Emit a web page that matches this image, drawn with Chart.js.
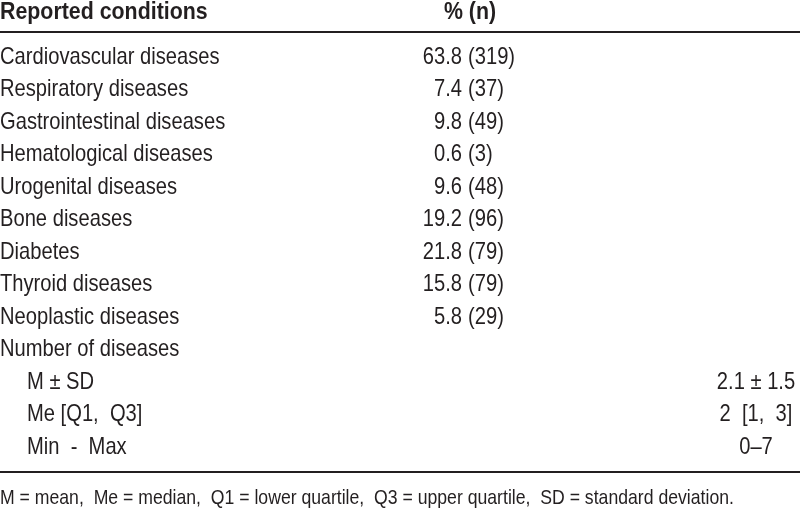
<!DOCTYPE html>
<html lang="en">
<head>
<meta charset="UTF-8">
<title>Reported conditions</title>
<script src="https://cdn.jsdelivr.net/npm/chart.js"></script>
<style>
  html, body { margin: 0; padding: 0; background: #fff; }
  #wrap { width: 800px; height: 511px; position: relative; }
</style>
</head>
<body>
<div id="wrap"><canvas id="tabela"></canvas></div>
<script>
// dados da tabela
const headers = ['Reported conditions', '% (n)'];
const conditions = ['Cardiovascular diseases', 'Respiratory diseases', 'Gastrointestinal diseases',
  'Hematological diseases', 'Urogenital diseases', 'Bone diseases', 'Diabetes',
  'Thyroid diseases', 'Neoplastic diseases'];
const percents = [63.8, 7.4, 9.8, 0.6, 9.6, 19.2, 21.8, 15.8, 5.8];
const counts = [319, 37, 49, 3, 48, 96, 79, 79, 29];
const summaryTitle = 'Number of diseases';
const summaryLabels = ['M ± SD', 'Me [Q1,  Q3]', 'Min  -  Max'];
const summaryValues = ['2.1 ± 1.5', '2  [1,  3]', '0–7'];
const footnote = 'M = mean,  Me = median,  Q1 = lower quartile,  Q3 = upper quartile,  SD = standard deviation.';

// layout (colunas em px, linhas em indice de linha)
const FONT = '"Liberation Sans", Arial, sans-serif';
const NARROW = 0.84;   // fonte condensada simulada
const NARROW_BOLD = 0.89;
const TXT = '#231f20';
const PCT_COL = 462;   // ponto decimal
const SUM_COL = 756;   // centro da coluna de resumo
const ROW_H = 32.5;
const FIRST_ROW = 57;

const nRows = conditions.length;
const summaryRow = nRows;              // "Number of diseases"
const headerRow = (12 - FIRST_ROW) / ROW_H;
const ruleTop = (32 - FIRST_ROW) / ROW_H;
const ruleBottom = (472 - FIRST_ROW) / ROW_H;
const footRow = (498 - FIRST_ROW) / ROW_H;

const pctPoints = percents.map((p, i) => ({ x: PCT_COL, y: i }));
const sumPoints = summaryValues.map((v, i) => ({ x: SUM_COL, y: summaryRow + 1 + i }));

function texto(ctx, t, x, y, align, esc) {
  ctx.save();
  ctx.translate(x, y);
  ctx.scale(esc || NARROW, 1);
  ctx.textAlign = align;
  ctx.fillText(t, 0, 0);
  ctx.restore();
}

const textoTabela = {
  id: 'textoTabela',
  afterDraw(chart) {
    const ctx = chart.ctx;
    const xs = chart.scales.x, ys = chart.scales.y;
    const left = xs.getPixelForValue(0);
    ctx.save();
    ctx.fillStyle = TXT;
    ctx.textBaseline = 'middle';

    // cabecalho
    ctx.font = 'bold 24px ' + FONT;
    texto(ctx, headers[0], left, ys.getPixelForValue(headerRow), 'left', NARROW_BOLD);
    texto(ctx, headers[1], xs.getPixelForValue(470), ys.getPixelForValue(headerRow), 'center', NARROW_BOLD);

    // linhas
    ctx.strokeStyle = '#231f20';
    ctx.lineWidth = 2;
    [ruleTop, ruleBottom].forEach(r => {
      const py = Math.round(ys.getPixelForValue(r));
      ctx.beginPath();
      ctx.moveTo(xs.getPixelForValue(0), py);
      ctx.lineTo(xs.getPixelForValue(800), py);
      ctx.stroke();
    });

    ctx.font = '24px ' + FONT;
    conditions.forEach((c, i) => texto(ctx, c, left, ys.getPixelForValue(i), 'left'));
    texto(ctx, summaryTitle, left, ys.getPixelForValue(summaryRow), 'left');
    summaryLabels.forEach((s, i) => texto(ctx, s, left + 27, ys.getPixelForValue(summaryRow + 1 + i), 'left'));

    // coluna % (n)
    chart.getDatasetMeta(0).data.forEach((pt, i) => {
      texto(ctx, percents[i].toFixed(1), pt.x, pt.y, 'right');
      texto(ctx, '(' + counts[i] + ')', pt.x + 6, pt.y, 'left');
    });

    // coluna resumo
    chart.getDatasetMeta(1).data.forEach((pt, i) => texto(ctx, summaryValues[i], pt.x, pt.y, 'center'));

    // nota
    ctx.font = '21px ' + FONT;
    texto(ctx, footnote, left, ys.getPixelForValue(footRow), 'left');
    ctx.restore();
  }
};

new Chart(document.getElementById('tabela'), {
  type: 'scatter',
  data: {
    datasets: [
      { label: '% (n)', data: pctPoints, pointRadius: 0 },
      { label: 'Number of diseases', data: sumPoints, pointRadius: 0 }
    ]
  },
  options: {
    responsive: true,
    maintainAspectRatio: false,
    animation: false,
    layout: { padding: 0 },
    plugins: { legend: { display: false }, tooltip: { enabled: false } },
    scales: {
      x: { type: 'linear', min: 0, max: 800, display: false },
      y: { type: 'linear', reverse: true, min: -FIRST_ROW / ROW_H, max: (511 - FIRST_ROW) / ROW_H, display: false }
    }
  },
  plugins: [textoTabela]
});
</script>
</body>
</html>
